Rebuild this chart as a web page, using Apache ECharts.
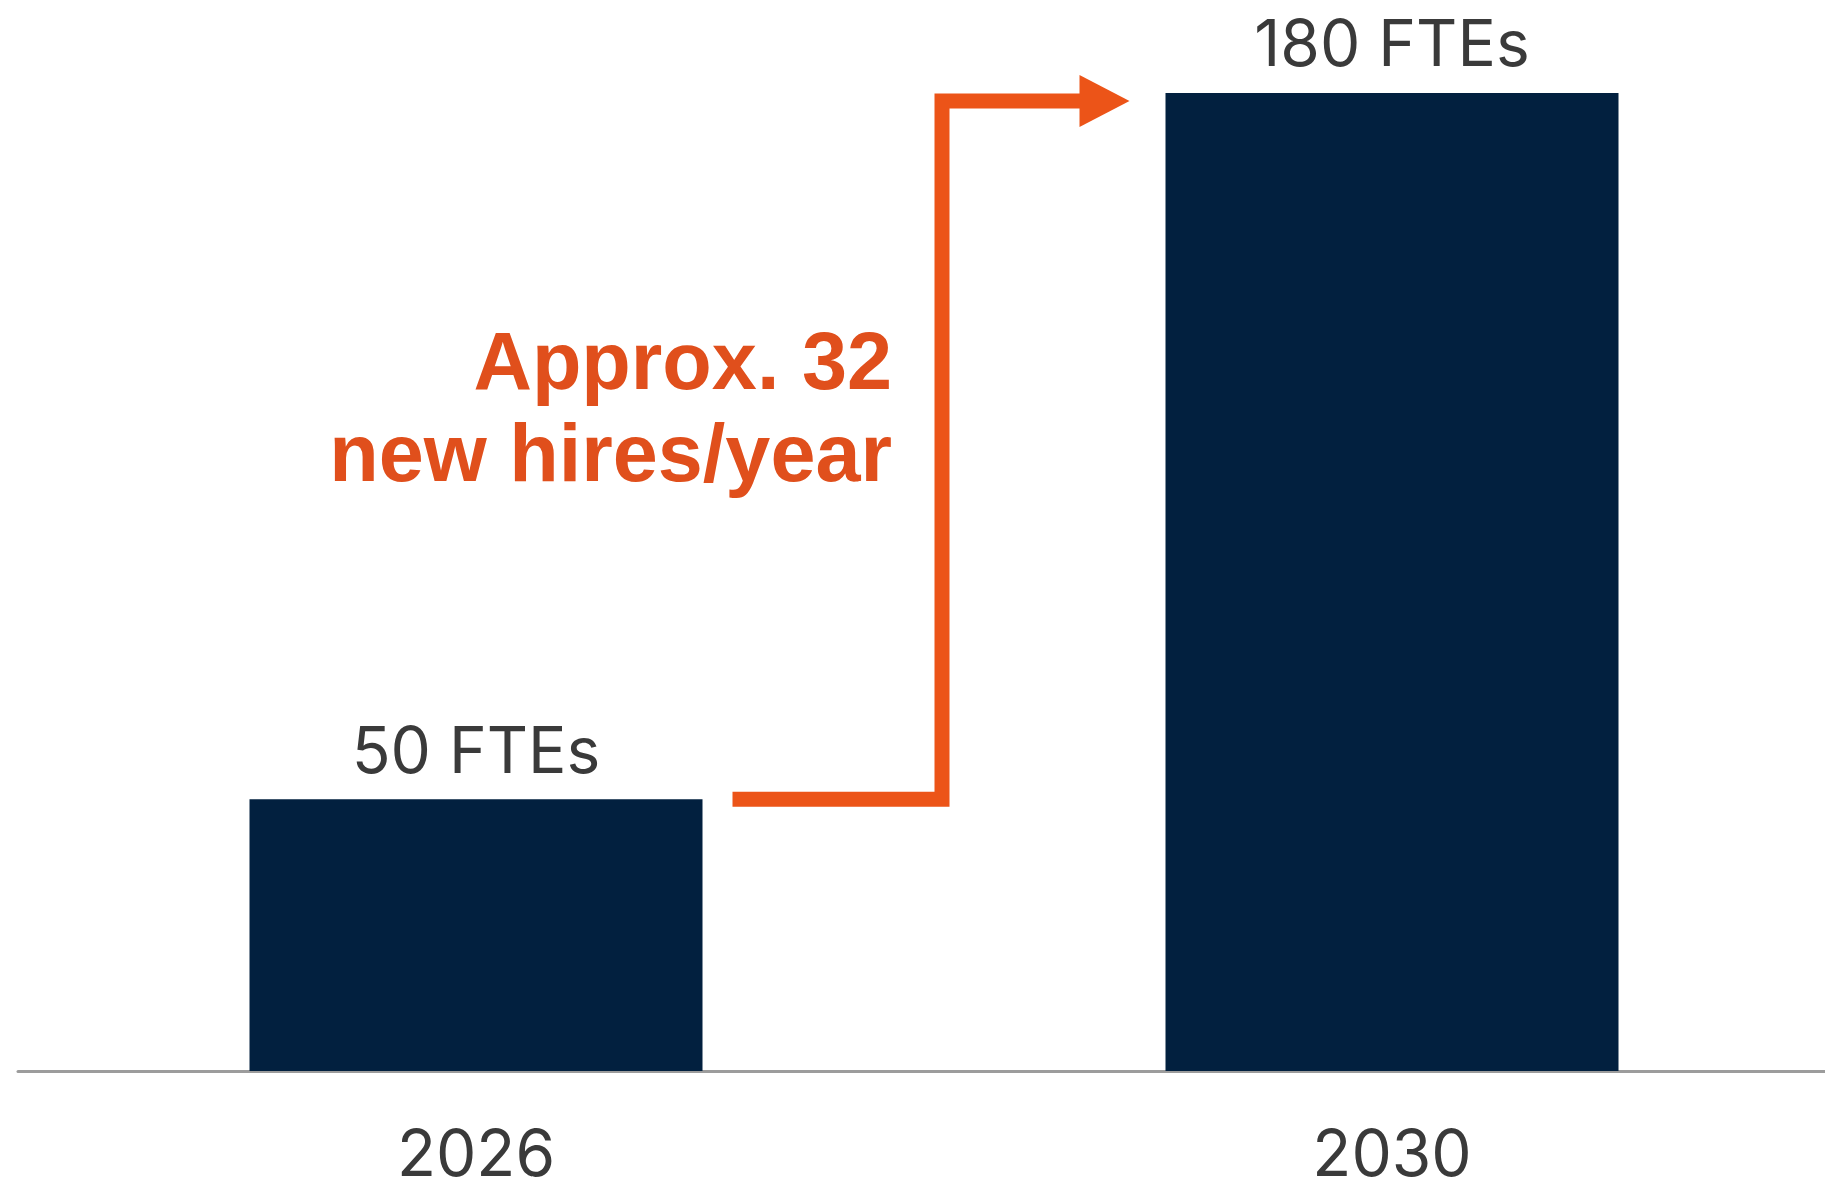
<!DOCTYPE html>
<html>
<head>
<meta charset="utf-8">
<script src="https://cdn.jsdelivr.net/npm/echarts@6/dist/echarts.min.js"></script>
<style>
html,body{margin:0;padding:0;background:#ffffff;}
#chart{width:1825px;height:1182px;}
</style>
</head>
<body>
<div id="chart"></div>
<script>
const categories = ['2026', '2030'];
const fteValues = [50, 180];
const barLabels = ['50 FTEs', '180 FTEs'];
const annotationLines = ['Approx. 32', 'new hires/year'];

const chart = echarts.init(document.getElementById('chart'), null, {renderer: 'canvas'});
const option = {
  backgroundColor: '#ffffff',
  animation: false,
  grid: {left: 18, right: -25, top: 93, bottom: 111, containLabel: false, outerBoundsMode: 'none'},
  xAxis: {
    type: 'category',
    data: categories,
    axisLine: {show: true, lineStyle: {color: '#9c9c9c', width: 3}},
    axisTick: {show: false},
    axisLabel: {color: '#3a3a3a', fontFamily: 'Inter', fontSize: 64, margin: 54}
  },
  yAxis: {
    type: 'value', min: 0, max: 180, show: false,
    splitLine: {show: false}
  },
  series: [{
    type: 'bar',
    data: fteValues,
    barWidth: 453,
    itemStyle: {color: '#02203f'},
    label: {
      show: true, position: 'top', distance: 14,
      formatter: p => barLabels[p.dataIndex],
      color: '#3a3a3a', fontFamily: 'Inter', fontSize: 64
    }
  }]
};
chart.setOption(option);

function drawArrow() {
  const p1 = chart.convertToPixel({gridIndex: 0}, [0, fteValues[0]]);
  const p2 = chart.convertToPixel({gridIndex: 0}, [1, fteValues[1]]);
  const half = 453 / 2;
  const startX = p1[0] + half + 30;
  const startY = p1[1];
  const midX = (p1[0] + half + p2[0] - half) / 2 + 8;
  const topY = p2[1] + 8;
  const tipX = p2[0] - half - 36;
  const headLen = 50, headHalf = 26;
  const orange = '#ec5418';
  chart.setOption({
    graphic: [
      {
        type: 'polyline', silent: true,
        shape: {points: [[startX, startY], [midX, startY], [midX, topY], [tipX - headLen + 4, topY]]},
        style: {stroke: orange, lineWidth: 15, fill: null, lineJoin: 'miter'}
      },
      {
        type: 'polygon', silent: true,
        shape: {points: [[tipX - headLen, topY - headHalf], [tipX, topY], [tipX - headLen, topY + headHalf]]},
        style: {fill: orange}
      },
      {
        type: 'text', silent: true,
        x: midX - 50, y: 321,
        style: {
          text: annotationLines.join('\n'),
          align: 'right', verticalAlign: 'top',
          fill: '#e04f1c',
          font: 'bold 81px "Liberation Sans", Arial, sans-serif',
          lineHeight: 92
        }
      }
    ]
  });
}
drawArrow();
</script>
</body>
</html>
